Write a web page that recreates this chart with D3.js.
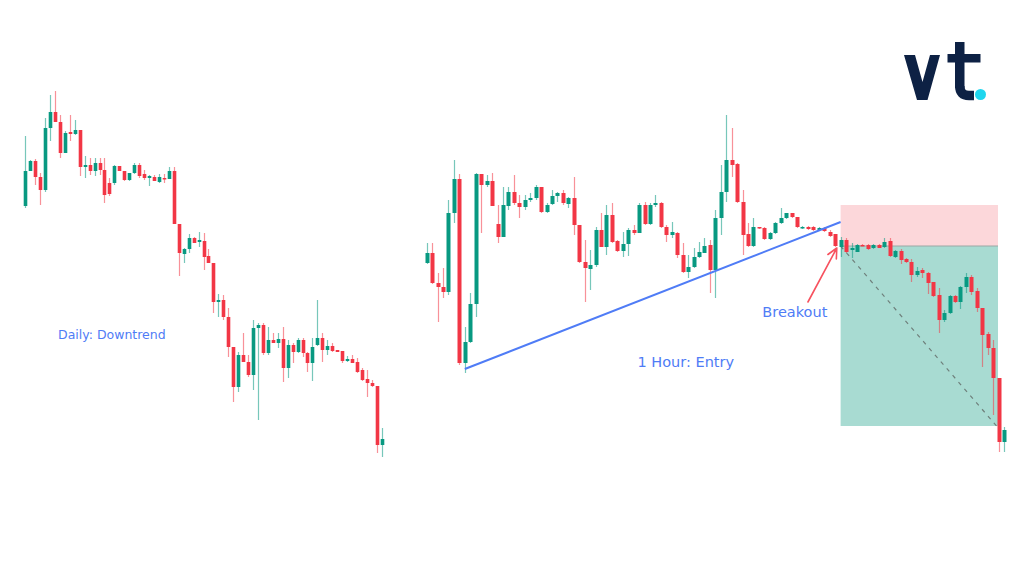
<!DOCTYPE html>
<html>
<head>
<meta charset="utf-8">
<script src="https://cdn.jsdelivr.net/npm/d3@7"></script>
<style>
  html, body { margin: 0; padding: 0; background: #ffffff; }
  svg { display: block; }
</style>
</head>
<body>
<div id="chart"></div>
<script>
// daily candles (left panel)
var dailyOpen  = [294,329,339,323,310,372,388,378,347,368, 366,370,333,335,329,337,330,317,317,334, 329,320,327,335,326,322,323,318,322,321, 329,276,246,251,262,258,259,244,237,198, 200,183,153,113,145,138,125,172,175,147, 160,157,161,132,155,148,160,147,137,155, 162,150,154,150,149,139,141,138,130,121, 117,114,55];
var dailyHigh  = [364,340,341,327,382,405,409,385,369,385, 380,370,344,342,342,342,342,322,335,334, 329,327,337,337,330,325,325,326,326,333, 333,276,252,266,263,268,267,251,237,206, 205,192,153,148,167,145,180,177,177,173, 167,167,173,160,157,162,162,148,162,200, 167,160,157,150,149,144,145,142,132,130, 120,114,72];
var dailyLow   = [292,329,315,295,308,359,378,342,347,359, 365,324,322,325,324,325,297,304,315,329, 319,319,326,322,320,314,319,317,317,321, 276,224,237,247,257,253,230,237,187,183, 180,143,98,108,138,123,110,80,145,145, 157,152,118,122,137,147,143,128,119,154, 138,145,148,148,137,138,137,127,119,103, 113,47,43];
var dailyClose = [329,339,323,310,372,388,378,347,367,366, 370,333,335,329,337,330,305,306,334,329, 320,327,335,324,322,324,319,323,321,329, 276,247,251,262,257,260,243,237,198,200, 183,153,113,145,138,125,172,175,147,160, 157,161,132,155,148,160,147,137,153,162, 150,154,149,148,139,141,137,128,120,117, 114,55,61];

// 1 hour candles (right panel)
var hourOpen  = [237,247,217,213,208,287,321,137,158,196, 326,315,319,276,263,294,308,297,293,300, 302,313,288,296,304,307,296,302,275,238, 231,235,270,253,285,259,249,256,270,267, 295,276,295,297,273,265,267,245,228,233, 243,247,255,230,282,308,340,336,298,266, 254,273,272,261,267,277,282,287,283,272, 273,273,270,272,268,266,253,260,250,248, 255,255,252,255,253,259,243,249,241,238, 225,230,227,218,205,180,187,204,198,213, 223,209,192,166,152,122,58];
var hourHigh  = [257,257,227,232,300,340,326,173,207,327, 326,325,327,295,313,313,325,305,305,307, 315,313,297,310,308,310,303,323,275,260, 250,273,287,295,297,260,268,272,275,297, 298,297,305,298,275,278,268,257,245,252, 258,262,260,290,335,385,372,337,310,277, 282,273,273,268,278,292,287,287,283,274, 274,274,273,273,270,266,263,262,257,256, 256,256,256,256,262,262,250,251,242,241, 233,232,228,218,212,190,205,205,214,227, 225,212,192,168,160,122,73];
var hourLow   = [236,216,178,202,205,277,135,127,157,183, 267,313,294,257,263,290,295,282,290,298, 300,287,287,295,298,295,292,265,237,198, 210,233,253,245,257,248,243,244,265,267, 275,275,293,272,258,262,242,227,222,232, 242,247,207,202,265,298,323,297,245,253, 253,271,260,260,266,276,281,282,272,271, 270,269,269,268,263,253,243,247,242,248, 254,250,251,252,252,243,242,236,237,218, 223,222,206,203,167,178,186,197,191,207, 205,188,133,145,85,48,48];
var hourClose = [247,217,213,208,287,321,137,158,196,326, 315,319,294,263,295,308,297,293,300,302, 313,288,295,304,307,297,302,275,238,232, 235,270,253,285,258,249,256,270,267,295, 276,295,297,273,265,268,245,228,233,243, 248,254,230,282,308,340,335,298,265,254, 273,272,261,267,277,282,287,283,273,273, 271,270,272,269,264,254,260,248,252,255, 254,251,255,252,258,244,249,240,238,225, 229,227,217,204,180,187,204,198,213,223, 208,192,165,152,122,58,70];

// annotations, in [candle index, price]
var trendLine = [[7, 131], [76, 278]];
var positionBars = [76, 104.9];
var positionLevels = [295, 254, 74]; // stop, entry, target
var positionPath = [[76, 254], [104.8, 73]];
var breakoutArrow = [[70, 198], [75.3, 252]];
var breakoutLabel = [67.6, 183];

var width = 1024, height = 573;
var up = "#089981", down = "#f23645", blue = "#4f7cf6";

var svg = d3.select("#chart")
    .append("svg")
    .attr("width", width)
    .attr("height", height);

// one price scale for both panels
var y = d3.scaleLinear().domain([0, 500]).range([500, 0]);
var xDaily = d3.scaleLinear().domain([0, dailyOpen.length - 1]).range([25.3, 381.7]);
var xHour = d3.scaleLinear().domain([0, hourOpen.length - 1]).range([426.7, 1004]);

function toCandles(o, h, l, c) {
    return o.map(function (d, i) {
        return { i: i, open: d, high: h[i], low: l[i], close: c[i] };
    });
}

// position tool boxes go under the candles
var pos = svg.append("g");
pos.append("rect")
    .attr("x", xHour(positionBars[0]))
    .attr("width", xHour(positionBars[1]) - xHour(positionBars[0]))
    .attr("y", y(positionLevels[0]))
    .attr("height", y(positionLevels[1]) - y(positionLevels[0]))
    .attr("fill", "#fcd7da");
pos.append("rect")
    .attr("x", xHour(positionBars[0]))
    .attr("width", xHour(positionBars[1]) - xHour(positionBars[0]))
    .attr("y", y(positionLevels[1]))
    .attr("height", y(positionLevels[2]) - y(positionLevels[1]))
    .attr("fill", "#a8dbd2");
pos.append("line")
    .attr("x1", xHour(positionBars[0]))
    .attr("x2", xHour(positionBars[1]))
    .attr("y1", y(positionLevels[1]))
    .attr("y2", y(positionLevels[1]))
    .attr("stroke", "#9aa7a4")
    .attr("stroke-width", 1);
pos.append("line")
    .attr("x1", xHour(positionPath[0][0]))
    .attr("y1", y(positionPath[0][1]))
    .attr("x2", xHour(positionPath[1][0]))
    .attr("y2", y(positionPath[1][1]))
    .attr("stroke", "#6f807c")
    .attr("stroke-width", 1.2)
    .attr("stroke-dasharray", "4,5");

function drawCandles(data, x, bodyW) {
    var g = svg.append("g");
    // wicks
    g.selectAll("line")
        .data(data)
        .enter()
        .append("line")
        .attr("x1", function (d) { return Math.round(x(d.i)) + 0.5; })
        .attr("x2", function (d) { return Math.round(x(d.i)) + 0.5; })
        .attr("y1", function (d) { return y(d.high); })
        .attr("y2", function (d) { return y(d.low); })
        .attr("stroke", function (d) { return d.close >= d.open ? up : down; })
        .attr("stroke-opacity", 0.55)
        .attr("stroke-width", 1.2);
    // bodies
    g.selectAll("rect")
        .data(data)
        .enter()
        .append("rect")
        .attr("x", function (d) { return Math.round(x(d.i)) + 0.5 - bodyW / 2; })
        .attr("width", bodyW)
        .attr("y", function (d) { return y(Math.max(d.open, d.close)); })
        .attr("height", function (d) { return Math.max(1.5, Math.abs(y(d.open) - y(d.close))); })
        .attr("fill", function (d) { return d.close >= d.open ? up : down; });
}

drawCandles(toCandles(dailyOpen, dailyHigh, dailyLow, dailyClose), xDaily, 3.6);
drawCandles(toCandles(hourOpen, hourHigh, hourLow, hourClose), xHour, 4);

// ascending trendline
svg.append("path")
    .datum(trendLine)
    .attr("fill", "none")
    .attr("stroke", blue)
    .attr("stroke-width", 2)
    .attr("d", d3.line()
        .x(function (d) { return xHour(d[0]); })
        .y(function (d) { return y(d[1]); }));

// breakout arrow
var ax0 = xHour(breakoutArrow[0][0]), ay0 = y(breakoutArrow[0][1]);
var ax1 = xHour(breakoutArrow[1][0]), ay1 = y(breakoutArrow[1][1]);
var ang = Math.atan2(ay1 - ay0, ax1 - ax0);
var head = 11, spread = Math.PI / 7;
svg.append("path")
    .attr("fill", "none")
    .attr("stroke", "#f7525f")
    .attr("stroke-width", 1.6)
    .attr("stroke-linecap", "round")
    .attr("stroke-linejoin", "round")
    .attr("d", "M" + ax0 + "," + ay0 + "L" + ax1 + "," + ay1 +
        "M" + (ax1 - head * Math.cos(ang - spread)) + "," + (ay1 - head * Math.sin(ang - spread)) +
        "L" + ax1 + "," + ay1 +
        "L" + (ax1 - head * Math.cos(ang + spread)) + "," + (ay1 - head * Math.sin(ang + spread)));

// labels
svg.append("text")
    .attr("x", xHour(breakoutLabel[0]))
    .attr("y", y(breakoutLabel[1]))
    .attr("text-anchor", "middle")
    .style("font-family", "DejaVu Sans, sans-serif")
    .style("font-size", "14.5px")
    .attr("fill", blue)
    .text("Breakout");

svg.append("text")
    .attr("x", 58)
    .attr("y", 339)
    .style("font-family", "DejaVu Sans, sans-serif")
    .style("font-size", "12.5px")
    .attr("fill", blue)
    .text("Daily: Downtrend");

svg.append("text")
    .attr("x", 637.5)
    .attr("y", 367)
    .style("font-family", "DejaVu Sans, sans-serif")
    .style("font-size", "14.5px")
    .attr("fill", blue)
    .text("1 Hour: Entry");

// vt logo
var logo = svg.append("g").attr("fill", "#0d2144");
logo.append("polygon")
    .attr("points", "904,55 915,55 922.5,82 930,55 940,55 927.5,100 917,100");
logo.append("rect").attr("x", 955).attr("y", 42).attr("width", 9.5).attr("height", 46);
logo.append("rect").attr("x", 947.5).attr("y", 54).attr("width", 33).attr("height", 8.5);
logo.append("path")
    .attr("fill", "none")
    .attr("stroke", "#0d2144")
    .attr("stroke-width", 9.5)
    .attr("d", "M959.75,86 Q959.75,95.5 969,95.5 L974,95.5");
logo.append("circle")
    .attr("cx", 980.5)
    .attr("cy", 94.5)
    .attr("r", 5.5)
    .attr("fill", "#1fd6ee");
</script>
</body>
</html>
